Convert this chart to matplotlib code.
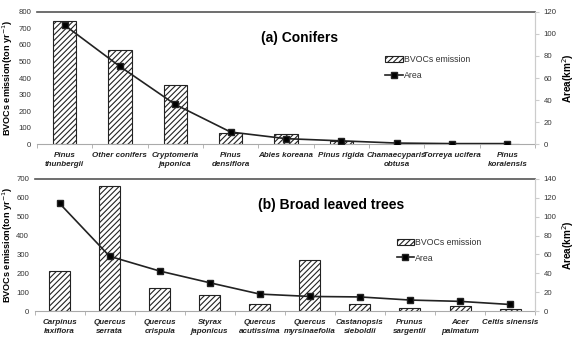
import matplotlib
matplotlib.use("Agg")
import matplotlib.pyplot as plt
import numpy as np

plt.rcParams['font.family'] = ['Liberation Sans', 'DejaVu Sans']
plt.rcParams['hatch.linewidth'] = 0.8

con_species = ["Pinus\nthunbergii", "Other conifers", "Cryptomeria\njaponica", "Pinus\ndensiflora",
               "Abies koreana", "Pinus rigida", "Chamaecyparis\nobtusa", "Torreya ucifera",
               "Pinus\nkoraiensis"]
con_emission = [745, 568, 355, 68, 60, 20, 0, 0, 0]
con_area = [108, 70.5, 36, 11, 5, 3, 1, 0.5, 0.5]

bl_species = ["Carpinus\nlaxiflora", "Quercus\nserrata", "Quercus\ncrispula", "Styrax\njaponicus",
              "Quercus\nacutissima", "Quercus\nmyrsinaefolia", "Castanopsis\nsieboldii",
              "Prunus\nsargentii", "Acer\npalmatum", "Celtis sinensis"]
bl_emission = [210, 660, 120, 85, 35, 272, 35, 18, 27, 9]
bl_area = [114, 58, 42.4, 30, 18, 15.5, 15, 11.7, 10.3, 7]

fig = plt.figure(figsize=(5.76, 3.4), dpi=100)

def panel(rect, names, emis, area, ymax, ystep, y2max, y2step, title, title_xy, leg_xy, labx):
    ax = fig.add_axes(rect)
    x = np.arange(len(names))
    ax.bar(x, emis, width=0.42, color='white', edgecolor='#222222', hatch='//////',
           linewidth=0.8, label='BVOCs emission', zorder=2)
    ax.set_xlim(-0.5, len(names) - 0.5)
    ax.set_ylim(0, ymax)
    ax.set_yticks(np.arange(0, ymax + 1, ystep))
    ax.tick_params(axis='y', length=0, labelsize=5.6, colors='#333333', pad=4)
    ax.set_xticks(x)
    ax.set_xticklabels(names, fontsize=5.8, fontstyle='italic', fontweight='bold', color='#222222',
                       linespacing=1.3)
    ax.set_xticks(np.arange(-0.5, len(names)), minor=True)
    ax.tick_params(axis='x', which='major', length=0, pad=6)
    ax.tick_params(axis='x', which='minor', length=3, color='#aaaaaa', direction='out')
    ax.spines['left'].set_visible(False)
    ax.spines['bottom'].set_color('#aaaaaa')
    ax.spines['top'].set_color('#555555')
    ax.spines['top'].set_linewidth(1.2)
    ax.spines['right'].set_color('#cccccc')
    ax.set_ylabel('BVOCs emission(ton yr$^{-1}$)', fontsize=6.6, fontweight='bold')
    ax.yaxis.set_label_coords(labx, 0.5)

    ax2 = ax.twinx()
    ax2.plot(x, area, color='#222222', linewidth=1.2, marker='s', markersize=5,
             markerfacecolor='black', label='Area', zorder=3)
    ax2.set_ylim(0, y2max)
    ax2.set_yticks(np.arange(0, y2max + 1, y2step))
    ax2.tick_params(axis='y', length=3, color='#cccccc', labelsize=5.6, colors='#333333', pad=3)
    for s in ['left', 'top', 'bottom']:
        ax2.spines[s].set_visible(False)
    ax2.spines['right'].set_color('#cccccc')
    ax2.set_ylabel('Area(km$^2$)', fontsize=7.2, fontweight='bold', labelpad=3)

    ax.text(title_xy[0], title_xy[1], title, transform=fig.transFigure, fontsize=10,
            fontweight='bold', ha='center', va='center')
    h1, l1 = ax.get_legend_handles_labels()
    h2, l2 = ax2.get_legend_handles_labels()
    fig.legend(h1 + h2, l1 + l2, loc='upper left', bbox_to_anchor=leg_xy,
               bbox_transform=fig.transFigure, frameon=False, fontsize=6.3,
               handlelength=2.0, handleheight=0.7, handletextpad=0.1, labelspacing=0.7,
               labelcolor='#333333')
    return ax, ax2

panel([0.064, 0.576, 0.865, 0.389], con_species, con_emission, con_area, 800, 100, 120, 20,
      '(a) Conifers', (0.52, 0.888), (0.655, 0.86), -0.044)
panel([0.06, 0.085, 0.869, 0.389], bl_species, bl_emission, bl_area, 700, 100, 140, 20,
      '(b) Broad leaved trees', (0.575, 0.398), (0.675, 0.322), -0.039)

fig.savefig('out.png', dpi=100)
